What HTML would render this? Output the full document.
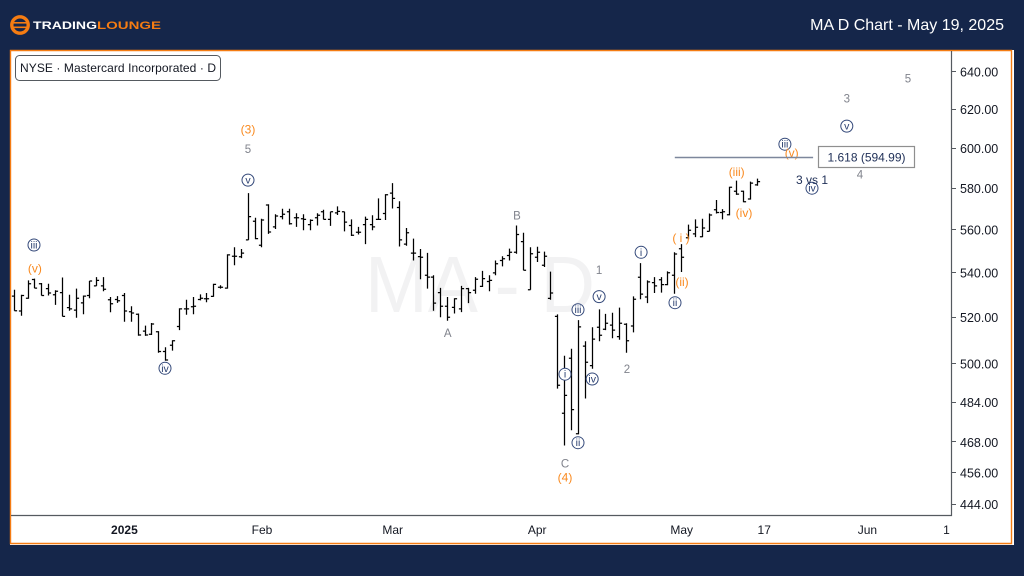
<!DOCTYPE html>
<html lang="en">
<head>
<meta charset="utf-8">
<title>MA D Chart - May 19, 2025</title>
<style>
html,body{margin:0;padding:0;background:#15264a;}
body{width:1024px;height:576px;overflow:hidden;position:relative;font-family:"Liberation Sans",sans-serif;}
svg{position:absolute;left:0;top:0;display:block;}
text{font-family:"Liberation Sans",sans-serif;}
</style>
</head>
<body>
<svg id="chart" width="1024" height="576" viewBox="0 0 1024 576" xmlns="http://www.w3.org/2000/svg">
  <rect x="0" y="0" width="1024" height="576" fill="#15264a"/>
  <g>
    <circle cx="20" cy="25" r="8.2" fill="none" stroke="#f57c12" stroke-width="3.4"/>
    <rect x="11" y="22" width="18" height="1.6" fill="#f57c12"/>
    <rect x="11" y="26.5" width="18" height="1.6" fill="#f57c12"/>
    <text x="33" y="29" font-size="11" font-weight="700" textLength="64" lengthAdjust="spacingAndGlyphs" fill="#ffffff">TRADING</text>
    <text x="97" y="29" font-size="11" font-weight="700" textLength="64" lengthAdjust="spacingAndGlyphs" fill="#f57c12">LOUNGE</text>
  </g>
  <text x="1004" y="30" font-size="16" fill="#ffffff" text-anchor="end">MA D Chart - May 19, 2025</text>

  <rect x="10" y="50" width="1004" height="495" fill="#ffffff"/>
  <path d="M10.5 50.5H1011.5V543.5H10.5Z" fill="none" stroke="#f57c12" stroke-width="1.4"/>

  <text x="365" y="312" font-size="80" fill="#f2f2f3" textLength="230" lengthAdjust="spacingAndGlyphs">MA - D</text>

  <g id="bars"></g>
  <g id="annotations"></g>
  <g id="target"></g>

  <path d="M951.5 51V515.5H11" fill="none" stroke="#555a60" stroke-width="1.2"/>
  <g id="yaxis"></g>
  <g id="xaxis"></g>

  <g>
    <rect x="15.5" y="55.5" width="205" height="25" rx="4" ry="4" fill="#ffffff" stroke="#555a60" stroke-width="1"/>
    <text x="20" y="72" font-size="12" fill="#131722" textLength="196">NYSE · Mastercard Incorporated · D</text>
  </g>
</svg>
<script>
const opens = [529.4,522.8,528.5,536.9,535,532.8,530,531,524.3,523.2,
526.4,529.7,534,534,527.8,527.9,529.7,522.5,521.4,514,
512.6,513.7,505.2,507.9,516,523.7,524.7,527.9,528.2,529.3,
533.4,533,547.6,547.3,555.2,564,552.7,571.8,561.3,566.2,
568.5,565.7,565.2,562.4,565.7,568.5,564.9,568,568.5,562,
558.8,562.4,562.4,564.9,567.7,577.6,570.6,553.2,549,547.4,
538.8,538,531,524.9,524.4,523.7,532.8,532,533.8,536,
539.9,545.6,547.9,549.4,554.4,532.3,547.1,543.4,528.4,520.4,
479.5,502.3,471.3,507.5,499.2,515.7,514.8,516.6,511.6,517,
516.2,537.9,529,535.5,536.8,534.6,538.8,551,556.2,558,
556.7,559.2,569.5,568.2,567.1,578.5,578.5,574.7,581.6];
const highs = [532.3,530,536.5,537.3,535.3,535,532,537.8,530,532.8,
529.7,536.2,538,538,529,529.4,530.8,524.9,521.7,516.4,
517.5,514,507,510,524,527.8,529,530.2,530.8,535,
534.3,548.5,551.7,550.9,577.6,565.7,565.2,572.2,567.3,570,
570,567.8,567.3,564.9,567.8,569.5,568.5,571.1,568.5,564.9,
561.3,566.2,566.9,575,577.1,582.5,573.6,560.8,555.8,550.9,
549.1,538.8,533.1,529,528.5,534,533.1,538,540.8,538.8,
545.6,547.6,551.1,562,558.5,551.7,552,549.7,540.5,521.3,
503.4,506.4,518.8,509.6,515.7,523.5,521.5,522,524.3,517.4,
529.3,544.4,536.5,538,538,540.6,549.4,553.2,562.4,564.9,
565.2,567.7,574.2,569.8,580.7,583.7,578.8,583.2,584.7];
const lows = [522.9,520.7,528.2,533,529.7,529.7,525.5,520.4,522.9,519.8,
521.4,528.5,534,531.6,522.2,526.4,518.1,518.1,512,511.9,
512.3,504.7,501.3,505.6,514.4,521.1,521.4,527.5,526.7,529.1,
532.8,532.8,543.4,546.7,555.2,555.5,551.7,558,560.3,564.9,
562.4,561.3,559.7,559.7,562,564.9,561.8,567,559.2,557,
557.7,553.2,559.7,564.6,564.6,570.1,552.1,552.4,545.6,537,
532.8,522.9,520,518.5,521.7,522.3,526.3,530.5,533.5,531.6,
538.8,542.9,545.6,548.7,541.1,532.3,544.9,542.6,527.8,489.6,
466.6,472.7,471,485.5,497.9,509.6,514.4,510.9,510.2,504.7,
513.4,528,526.3,530.8,531,534.3,530.5,540.3,555.5,556.5,
556.5,559.2,567.7,564.9,566.8,576.7,573.1,574.4,581.2];
const closes = [522.9,529.7,535,533,529.7,530.8,531.6,520.4,523.7,528.5,
529.4,536.2,536.5,532.5,526,527.3,522.8,521.9,512.3,512.3,
517.1,505.2,501.6,509.8,523.7,523.7,524.9,528.5,528.2,534.7,
533.4,548.2,547.6,549,566.2,555.8,564.6,558.9,566.5,567.3,
562.8,565.7,564.9,564.4,566.9,564.9,568.5,568.7,563.6,557.4,
558.8,564.9,561.3,564.9,576.8,575,555.2,558.5,549,547.1,
538,526.3,524.9,520,528.2,532.8,531,537,537.3,536.5,
544.1,546.4,549.4,557.7,541.1,548.7,549.4,547.6,530.8,491,
486.8,481,515.8,500.6,510.5,512.2,517.4,514.4,517.4,509.8,
528,530.3,535.8,534,534.6,540,548.6,547.1,559.7,561.1,
560.8,567,568.2,568.5,580.4,577.1,573.4,582.5,583.2];

const priceTicks = [640,620,600,580,560,540,520,500,484,468,456,444];
const timeLabels = ["2025","Feb","Mar","Apr","May","17","Jun","1"];
const timeIndex = [16,36,55,76,97,109,124,135.5];

const waveLabels = ["(3)","5","v","iii","(v)","iv","A","B","1","v","iii","i","iv","2","ii","C","(4)","i","ii","( i )","(ii)","(iii)","(iv)","iii","(v)","iv","3","v","4","5"];
const waveKinds = ["o","g","c","c","o","c","g","g","g","c","c","c","c","g","c","g","o","c","c","o","o","o","o","c","o","c","g","c","g","g"];
const waveIndex = [33.97,33.97,33.97,2.86,3,21.9,63,73.07,85,85,81.94,80.04,84,89.05,81.94,80.04,80.04,91.1,96.03,96.9,97.05,105,106.06,112,113,115.95,121,121,122.92,129.9];
const wavePrice = [609.8,599.7,584.2,553,542.2,498.3,513.4,566.9,541.4,529.4,523.6,495.8,493.8,497.9,467.9,459.7,454.3,549.6,526.7,556.2,535.9,588.3,568.1,602.2,597.7,580.2,625.9,611.5,587,636.6];

const targetPrice = 594.99;
const targetRatio = "1.618";
const targetStartIndex = 96;
const targetEndIndex = 116.1;

const NS = "http://www.w3.org/2000/svg";
function xScale(i) { return 14.3 + i * 6.88; }
function yScale(p) { return 71.7 + 1183 * Math.log(640 / p); }
function crisp(v) { return Math.round(v - 0.5) + 0.5; }
function mk(tag, parent) { const el = document.createElementNS(NS, tag); parent.appendChild(el); return el; }

const barsG = document.getElementById("bars");
for (let i = 0; i < opens.length; i++) {
  const x = crisp(xScale(i));
  const bar = mk("path", barsG);
  
  
  const yo = yScale(opens[i]), yc = yScale(closes[i]);
  bar.setAttribute("d", "M" + x + " " + yScale(highs[i]).toFixed(1) + "V" + yScale(lows[i]).toFixed(1) +
    "M" + (x - 2.6) + " " + yo.toFixed(1) + "H" + x + "M" + x + " " + yc.toFixed(1) + "H" + (x + 2.6));
  bar.setAttribute("stroke", "#000000");
  bar.setAttribute("stroke-width", "1.25");
  bar.setAttribute("fill", "none");
}

const yG = document.getElementById("yaxis");
priceTicks.forEach(function (p) {
  const y = yScale(p);
  const t = mk("line", yG);
  
  
  t.setAttribute("x1", 952); t.setAttribute("x2", 956);
  t.setAttribute("y1", crisp(y)); t.setAttribute("y2", crisp(y));
  t.setAttribute("stroke", "#555a60");
  const l = mk("text", yG);
  
  
  l.setAttribute("x", 960); l.setAttribute("y", (y + 4.8).toFixed(1));
  l.setAttribute("font-size", "12.5"); l.setAttribute("fill", "#131722");
  l.textContent = p.toFixed(2);
});

const xG = document.getElementById("xaxis");
timeLabels.forEach(function (lab, k) {
  const l = mk("text", xG);
  
  
  l.setAttribute("x", xScale(timeIndex[k]).toFixed(1)); l.setAttribute("y", 534);
  l.setAttribute("font-size", "12"); l.setAttribute("fill", "#131722");
  l.setAttribute("text-anchor", "middle");
  if (lab === "2025") l.setAttribute("font-weight", "700");
  l.textContent = lab;
});

const aG = document.getElementById("annotations");
waveLabels.forEach(function (lab, k) {
  const x = xScale(waveIndex[k]), y = yScale(wavePrice[k]), kind = waveKinds[k];
  if (kind === "c") {
    const c = mk("circle", aG);
    
    
    c.setAttribute("cx", x.toFixed(1)); c.setAttribute("cy", (y + 0.5).toFixed(1)); c.setAttribute("r", "6");
    c.setAttribute("fill", "#ffffff"); c.setAttribute("stroke", "#34497a"); c.setAttribute("stroke-width", "1");
  }
  const t = mk("text", aG);
  
  
  t.setAttribute("x", x.toFixed(1));
  t.setAttribute("text-anchor", "middle");
  t.setAttribute("y", (y + (kind === "c" ? 4 : 4.5)).toFixed(1));
  t.setAttribute("font-size", kind === "c" ? "10.5" : (kind === "o" ? "12" : "11.5"));
  t.setAttribute("fill", kind === "c" ? "#2a3f70" : (kind === "o" ? "#f98a20" : "#80838c"));
  t.textContent = lab;
});

const tG = document.getElementById("target");
const ty = crisp(yScale(targetPrice));
const tLine = mk("line", tG);


tLine.setAttribute("x1", xScale(targetStartIndex).toFixed(1));
tLine.setAttribute("x2", xScale(targetEndIndex).toFixed(1));
tLine.setAttribute("y1", ty); tLine.setAttribute("y2", ty);
tLine.setAttribute("stroke", "#7d879c"); tLine.setAttribute("stroke-width", "1.5");
const tBox = mk("rect", tG);


tBox.setAttribute("x", 818.5); tBox.setAttribute("y", ty - 11);
tBox.setAttribute("width", 96); tBox.setAttribute("height", 21);
tBox.setAttribute("fill", "#ffffff"); tBox.setAttribute("stroke", "#8f8f8f"); tBox.setAttribute("stroke-width", "1.2");
const tText = mk("text", tG);


tText.setAttribute("x", 866.5); tText.setAttribute("y", ty + 4);
tText.setAttribute("text-anchor", "middle"); tText.setAttribute("font-size", "12"); tText.setAttribute("fill", "#1f2f57");
tText.textContent = targetRatio + " (" + targetPrice.toFixed(2) + ")";
const vsText = mk("text", tG);


vsText.setAttribute("x", 812); vsText.setAttribute("y", 184);
vsText.setAttribute("text-anchor", "middle"); vsText.setAttribute("font-size", "12"); vsText.setAttribute("fill", "#1f2f57");
vsText.textContent = "3 vs 1";
</script>
</body>
</html>
